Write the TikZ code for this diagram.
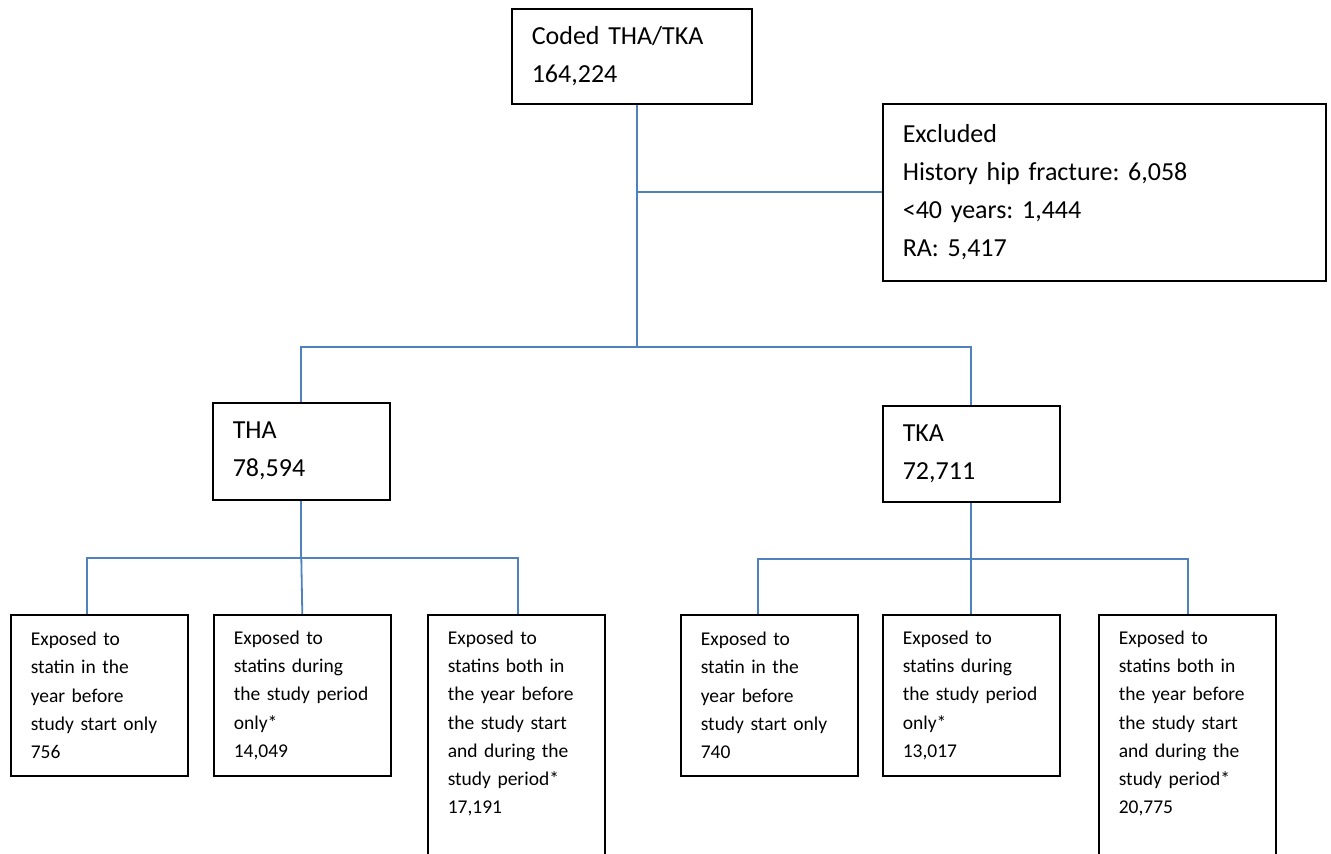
\documentclass[tikz,border=0pt]{standalone}
\usepackage{fontspec}
\setmainfont{Carlito}
\usepackage{xcolor}
\frenchspacing

\begin{document}
\begin{tikzpicture}[x=1pt,y=-1pt,
  bigbox/.style={draw,line width=1.6pt,anchor=north west,align=left,inner xsep=20pt,inner ysep=0pt,font=\fontsize{26}{38}\selectfont},
  smallbox/.style={draw,line width=1.6pt,anchor=north west,align=left,inner xsep=20pt,text width=137pt,font=\fontsize{19.5}{28.25}\selectfont},
  shortbox/.style={minimum height=161pt},
  longbox/.style={inner ysep=16pt,text depth=230pt},
  link/.style={draw=lineblue,line width=1.8pt}]
\definecolor{lineblue}{HTML}{4F81BD}
\useasboundingbox (0,0) rectangle (1331,854);
\node [bigbox,text width=200pt,minimum height=95pt] (coded) at (511,8) {Coded THA/TKA\\164,224};
\node [bigbox,text width=403pt,minimum height=177pt] (excl) at (882,103) {Excluded\\History hip fracture: 6,058\\<40 years: 1,444\\RA: 5,417};
\node [bigbox,text width=137pt,minimum height=97pt] (tha) at (212,402) {THA\\78,594};
\node [bigbox,text width=137pt,minimum height=96pt] (tka) at (882,405) {TKA\\72,711};
  \foreach \nm/\px/\kind/\txt in {
    thaA/10/shortbox/{Exposed to\\statin in the\\year before\\study start only\\756},
    thaB/213/shortbox/{Exposed to\\statins during\\the study period\\only*\\14,049},
    thaC/427/longbox/{Exposed to\\statins both in\\the year before\\the study start\\and during the\\study period*\\17,191},
    tkaA/680/shortbox/{Exposed to\\statin in the\\year before\\study start only\\740},
    tkaB/882/shortbox/{Exposed to\\statins during\\the study period\\only*\\13,017},
    tkaC/1098/longbox/{Exposed to\\statins both in\\the year before\\the study start\\and during the\\study period*\\20,775}}
  {  \node [smallbox,\kind] (\nm) at (\px,614) {\txt};}
\draw [link] ([xshift=5pt]coded.south) -- ++(0,242) coordinate (fork);
\draw [link] (excl.west) -- (excl.west -| fork);
\draw [link] (tha.north) |- (fork) -| (tka.north);
\draw [link] (tha.south) -- ++(0,57) coordinate (thajoin);
\draw [link] ([xshift=-12pt]thaA.north) |- (thajoin) -| ([xshift=2pt]thaC.north);
\draw [link] (thajoin) -- (thaB.north);
\draw [link] (tka.south) -- ++(0,56) coordinate (tkajoin);
\draw [link] ([xshift=-11pt]tkaA.north) |- (tkajoin) -| ([xshift=1pt]tkaC.north);
\draw [link] (tkajoin) -- (tkaB.north);
\end{tikzpicture}
\end{document}
